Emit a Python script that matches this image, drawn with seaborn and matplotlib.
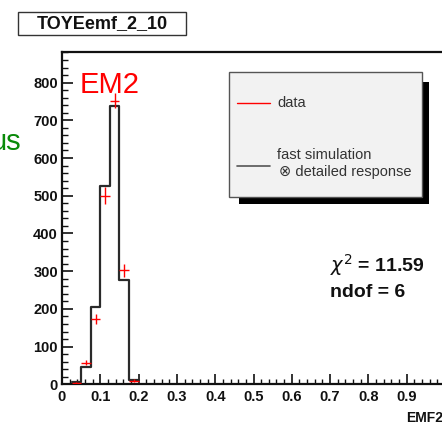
import numpy as np
import pandas as pd
import matplotlib
matplotlib.use("Agg")
import matplotlib.pyplot as plt
from matplotlib.patches import Rectangle
from matplotlib.lines import Line2D
from matplotlib.ticker import MultipleLocator
import seaborn as sns

# ---- data ----
bin_edges = [0.025, 0.05, 0.075, 0.1, 0.125, 0.15, 0.175, 0.2]
bin_centers = [0.0375, 0.0625, 0.0875, 0.1125, 0.1375, 0.1625, 0.1875]
sim_counts = [5, 45, 205, 525, 738, 276, 12]
data_counts = [3, 57, 174, 500, 752, 302, 10]
data_errors = [2, 7, 13, 22, 20, 17, 3]
x_ticks = [0, 0.1, 0.2, 0.3, 0.4, 0.5, 0.6, 0.7, 0.8, 0.9]
x_tick_labels = ["0", "0.1", "0.2", "0.3", "0.4", "0.5", "0.6", "0.7", "0.8", "0.9"]
y_ticks = [0, 100, 200, 300, 400, 500, 600, 700, 800]

sns.set_style("ticks")
plt.rcParams["font.family"] = ["Liberation Sans", "DejaVu Sans"]

W, H = 442, 422
fig = plt.figure(figsize=(W / 100, H / 100), dpi=100)
fig.patch.set_facecolor("white")

def fx(px):
    return px / W

def fy(py):
    return 1 - py / H

ax_left, ax_right, ax_top, ax_bot = 62, 445, 51.7, 384.3
ax = fig.add_axes([fx(ax_left), fy(ax_bot), (ax_right - ax_left) / W, (ax_bot - ax_top) / H])
ax.set_facecolor("white")

df = pd.DataFrame({"x": bin_centers, "w": sim_counts})
sns.histplot(data=df, x="x", weights="w", bins=bin_edges, element="step",
             fill=False, color="#2a2a2a", linewidth=1.6, ax=ax)

ax.errorbar(bin_centers, data_counts, xerr=0.0125, yerr=data_errors,
            fmt="none", ecolor="red", elinewidth=1.0, capsize=0, zorder=5)

ax.set_xlim(0, 1.0)
ax.set_ylim(0, 882)
ax.set_xlabel("")
ax.set_ylabel("")
ax.set_xticks(x_ticks)
ax.set_xticklabels(x_tick_labels)
ax.set_yticks(y_ticks)
ax.xaxis.set_minor_locator(MultipleLocator(0.02))
ax.yaxis.set_minor_locator(MultipleLocator(20))
ax.tick_params(axis="y", which="major", direction="in", length=8, width=1.2,
               labelsize=10.5, pad=3, colors="#111111")
ax.tick_params(axis="y", which="minor", direction="in", length=4.5, width=1.0, colors="#111111")
ax.tick_params(axis="x", which="major", direction="in", length=7, width=1.2,
               labelsize=10.5, pad=4, colors="#111111")
ax.tick_params(axis="x", which="minor", direction="in", length=3.5, width=1.0, colors="#111111")
for lab in ax.get_xticklabels() + ax.get_yticklabels():
    lab.set_fontweight("bold")
for s in ["left", "bottom", "top", "right"]:
    ax.spines[s].set_visible(True)
    ax.spines[s].set_linewidth(1.6)
    ax.spines[s].set_color("#111111")

# title box
fig.patches.append(Rectangle((fx(18), fy(35)), (186 - 18) / W, (35 - 12) / H,
                             transform=fig.transFigure, facecolor="white",
                             edgecolor="#333333", linewidth=1.0))
fig.text(fx(102), fy(23.5), "TOYEemf_2_10", ha="center", va="center",
         fontsize=13, fontweight="bold", color="#111111")

# EM2 label and green fragment
fig.text(fx(80), fy(93), "EM2", ha="left", va="baseline", fontsize=21, color="red")
fig.text(fx(21), fy(150), "us", ha="right", va="baseline", fontsize=21, color="#0a8a0a")

# legend with shadow
fig.patches.append(Rectangle((fx(239), fy(204)), (429 - 239) / W, (204 - 82) / H,
                             transform=fig.transFigure, facecolor="black",
                             edgecolor="black", linewidth=0))
fig.patches.append(Rectangle((fx(229), fy(197)), (422 - 229) / W, (197 - 72) / H,
                             transform=fig.transFigure, facecolor="#f2f2f2",
                             edgecolor="#555555", linewidth=1.0))
fig.lines.append(Line2D([fx(237), fx(270)], [fy(103), fy(103)], transform=fig.transFigure,
                        color="red", linewidth=1.0))
fig.lines.append(Line2D([fx(237), fx(270)], [fy(166), fy(166)], transform=fig.transFigure,
                        color="#555555", linewidth=1.2))
fig.text(fx(277), fy(103), "data", ha="left", va="center", fontsize=10.5, color="#333333")
fig.text(fx(277), fy(155), "fast simulation", ha="left", va="center", fontsize=10.5, color="#333333")
fig.text(fx(279), fy(172), "\u2297 detailed response", ha="left", va="center", fontsize=10.5,
         color="#333333", family=["Liberation Sans", "DejaVu Sans"])

# chi2 text
fig.text(fx(330), fy(272), r"$\chi^{2}$ = 11.59", ha="left", va="baseline",
         fontsize=14, fontweight="bold", color="#111111")
fig.text(fx(330), fy(297), "ndof = 6", ha="left", va="baseline",
         fontsize=14, fontweight="bold", color="#111111")

# x axis title
fig.text(fx(406), fy(411), "EMF2", ha="left", va="top", fontsize=10, fontweight="bold",
         color="#111111")

fig.savefig("out.png", dpi=100)
